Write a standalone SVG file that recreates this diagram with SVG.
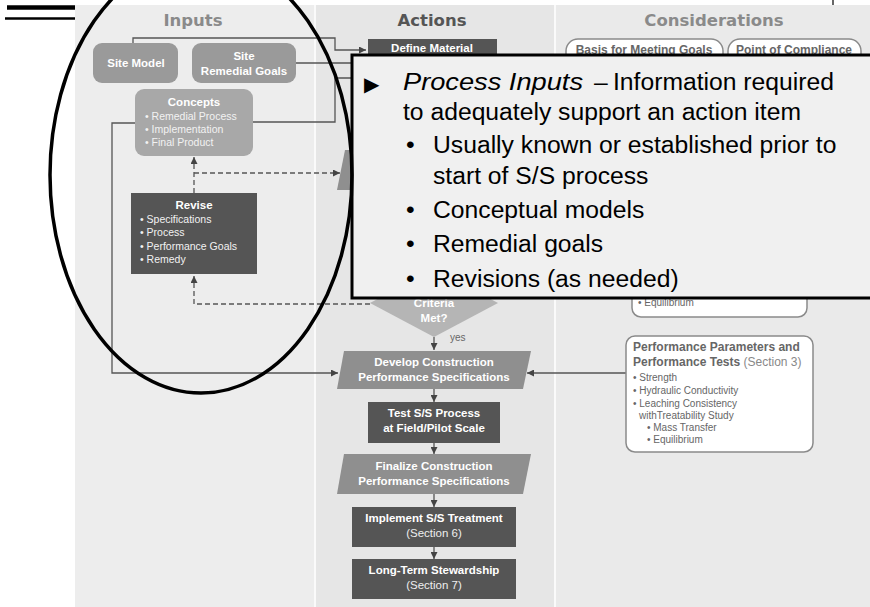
<svg xmlns="http://www.w3.org/2000/svg" width="870" height="607" viewBox="0 0 870 607">
<defs>
<marker id="ah" viewBox="0 0 10 10" refX="10" refY="5" markerWidth="7" markerHeight="7" orient="auto" markerUnits="userSpaceOnUse"><path d="M0,0 L10,5 L0,10 z" fill="#444"/></marker>
</defs>
<style>
.hdr{font-family:"DejaVu Sans",Verdana,sans-serif;font-weight:bold;font-size:16.5px;text-anchor:middle}
.wb{font-family:"Liberation Sans",Arial,sans-serif;font-weight:bold;font-size:11.5px;fill:#fff;text-anchor:middle}
.wn{font-family:"Liberation Sans",Arial,sans-serif;font-size:11.5px;fill:#eee;text-anchor:middle}
.wl{font-family:"Liberation Sans",Arial,sans-serif;font-size:10.5px;fill:#f2f2f2}
.gb{font-family:"Liberation Sans",Arial,sans-serif;font-weight:bold;font-size:12px;fill:#666}
.gn{font-family:"Liberation Sans",Arial,sans-serif;font-size:10px;fill:#666}
.ln{fill:none;stroke:#555;stroke-width:1.3}
.dl{fill:none;stroke:#555;stroke-width:1.3;stroke-dasharray:5 3}
.wbox{fill:#fff;stroke:#8a8a8a;stroke-width:1.5}
.co{font-family:"Liberation Sans",Arial,sans-serif;font-size:24.7px;fill:#000}
</style>

<!-- top-left rules -->
<line x1="7" y1="7.5" x2="75" y2="7.5" stroke="#000" stroke-width="4.5"/>
<line x1="5" y1="18.5" x2="75" y2="18.5" stroke="#000" stroke-width="2.5"/>
<line x1="833" y1="0" x2="833" y2="14" stroke="#000" stroke-width="1.2"/>

<!-- background columns -->
<g id="background">
<rect x="75" y="5" width="795" height="602" fill="#ebebeb"/>
<rect x="75" y="5" width="240" height="602" fill="#ededed"/>
<rect x="316" y="5" width="238" height="602" fill="#e6e6e6"/>
<rect x="556" y="5" width="314" height="602" fill="#eaeaea"/>
<line x1="315" y1="5" x2="315" y2="607" stroke="#fafafa" stroke-width="2"/>
<line x1="555" y1="5" x2="555" y2="607" stroke="#fafafa" stroke-width="2"/>
<text class="hdr" x="193" y="26" fill="#8a8a8a">Inputs</text>
<text class="hdr" x="432" y="26" fill="#555">Actions</text>
<text class="hdr" x="714" y="26" fill="#8a8a8a">Considerations</text>
</g>

<!-- connectors -->
<g id="connectors">
<path class="ln" d="M133,43 V38 H335 V50 H366" marker-end="url(#ah)"/>
<path class="ln" d="M296,63 H366"/>
<path class="ln" d="M253,122 H335 V78 H366"/>
<path class="ln" d="M135,123 H112 V373 H338" marker-end="url(#ah)"/>
<path class="dl" d="M194,193 V157" marker-end="url(#ah)"/>
<path class="dl" d="M194,173 H340" marker-end="url(#ah)"/>
<path class="dl" d="M370,304 H194 V276" marker-end="url(#ah)"/>
<path class="ln" d="M434,337 V350" marker-end="url(#ah)"/>
<path class="ln" d="M434,389 V402" marker-end="url(#ah)"/>
<path class="ln" d="M434,443 V454" marker-end="url(#ah)"/>
<path class="ln" d="M434,494 V507" marker-end="url(#ah)"/>
<path class="ln" d="M434,547 V559" marker-end="url(#ah)"/>
<path class="ln" d="M626,373 H527" marker-end="url(#ah)"/>
</g>

<!-- Inputs nodes -->
<g id="site-model">
<rect x="93" y="43" width="85" height="40" rx="9" fill="#9a9a9a"/>
<text class="wb" x="136" y="67" font-size="12">Site Model</text>
</g>
<g id="site-remedial-goals">
<rect x="192" y="43" width="104" height="40" rx="9" fill="#9a9a9a"/>
<text class="wb" x="244" y="60" font-size="12">Site</text>
<text class="wb" x="244" y="75" font-size="12">Remedial Goals</text>
</g>
<g id="concepts">
<rect x="135" y="89" width="118" height="67" rx="9" fill="#a8a8a8"/>
<text class="wb" x="194" y="106" font-size="12.5">Concepts</text>
<text class="wl" x="145" y="120">• Remedial Process</text>
<text class="wl" x="145" y="133">• Implementation</text>
<text class="wl" x="145" y="146">• Final Product</text>
</g>
<g id="revise">
<rect x="131" y="193" width="126" height="81" fill="#555"/>
<text class="wb" x="194" y="209" font-size="12.5">Revise</text>
<text class="wl" x="140" y="223">• Specifications</text>
<text class="wl" x="140" y="236">• Process</text>
<text class="wl" x="140" y="250">• Performance Goals</text>
<text class="wl" x="140" y="263">• Remedy</text>
</g>

<!-- Actions nodes -->
<g id="define-material">
<rect x="368" y="39" width="129" height="40" fill="#555"/>
<text class="wb" x="432" y="52">Define Material</text>
</g>
<g id="hidden-step">
<polygon points="345,150 530,150 522,190 337,190" fill="#8f8f8f"/>
</g>
<g id="criteria-met">
<polygon points="434,269 498,303 434,337 370,303" fill="#b5b5b5"/>
<text class="wb" x="434" y="307">Criteria</text>
<text class="wb" x="434" y="322">Met?</text>
<text class="gn" x="450" y="341" fill="#777" font-size="10.5">yes</text>
</g>
<g id="develop-specs">
<polygon points="344,351 531,351 523,389 337,389" fill="#8f8f8f"/>
<text class="wb" x="434" y="366">Develop Construction</text>
<text class="wb" x="434" y="381">Performance Specifications</text>
</g>
<g id="test-process">
<rect x="368" y="402" width="132" height="41" fill="#555"/>
<text class="wb" x="434" y="417">Test S/S Process</text>
<text class="wb" x="434" y="432">at Field/Pilot Scale</text>
</g>
<g id="finalize-specs">
<polygon points="344,454 531,454 523,494 337,494" fill="#8f8f8f"/>
<text class="wb" x="434" y="470">Finalize Construction</text>
<text class="wb" x="434" y="485">Performance Specifications</text>
</g>
<g id="implement">
<rect x="352" y="507" width="164" height="40" fill="#555"/>
<text class="wb" x="434" y="522">Implement S/S Treatment</text>
<text class="wn" x="434" y="537">(Section 6)</text>
</g>
<g id="stewardship">
<rect x="352" y="559" width="164" height="40" fill="#555"/>
<text class="wb" x="434" y="574">Long-Term Stewardship</text>
<text class="wn" x="434" y="589">(Section 7)</text>
</g>

<!-- Considerations nodes -->
<g id="basis-goals">
<rect x="566" y="39" width="157" height="36" rx="12" class="wbox"/>
<text class="gb" x="644" y="54" text-anchor="middle" font-size="11">Basis for Meeting Goals</text>
</g>
<g id="point-compliance">
<rect x="728" y="39" width="133" height="36" rx="12" class="wbox"/>
<text class="gb" x="794" y="54" text-anchor="middle" font-size="11">Point of Compliance</text>
</g>
<g id="upper-params">
<rect x="632" y="200" width="175" height="117" rx="9" class="wbox"/>
<text class="gn" x="638" y="306" font-size="9.5">• Equilibrium</text>
</g>
<g id="performance-params">
<rect x="626" y="336" width="187" height="116" rx="9" class="wbox"/>
<text class="gb" x="633" y="351">Performance Parameters and</text>
<text class="gb" x="633" y="366">Performance Tests <tspan font-weight="normal" fill="#888">(Section 3)</tspan></text>
<text class="gn" x="633" y="381">• Strength</text>
<text class="gn" x="633" y="394">• Hydraulic Conductivity</text>
<text class="gn" x="633" y="407">• Leaching Consistency</text>
<text class="gn" x="639" y="419">withTreatability Study</text>
<text class="gn" x="647" y="431">• Mass Transfer</text>
<text class="gn" x="647" y="443">• Equilibrium</text>
</g>

<!-- callout -->
<g id="callout">
<rect x="352" y="55" width="522" height="243" fill="#f0f0f0" stroke="#000" stroke-width="3"/>
<text x="364" y="91" font-family="DejaVu Sans,sans-serif" font-size="20" fill="#000">▶</text>
<text class="co" x="403" y="90" font-style="italic" font-size="25.5" textLength="180" lengthAdjust="spacingAndGlyphs">Process Inputs</text>
<text class="co" x="594" y="90">–</text>
<text class="co" x="613" y="90">Information required</text>
<text class="co" x="403" y="120">to adequately support an action item</text>
<text class="co" x="406" y="153">•</text>
<text class="co" x="433" y="153">Usually known or established prior to</text>
<text class="co" x="433" y="184">start of S/S process</text>
<text class="co" x="406" y="218">•</text>
<text class="co" x="433" y="218">Conceptual models</text>
<text class="co" x="406" y="252">•</text>
<text class="co" x="433" y="252">Remedial goals</text>
<text class="co" x="406" y="287">•</text>
<text class="co" x="433" y="287">Revisions (as needed)</text>
</g>

<!-- highlight ellipse -->
<ellipse cx="201" cy="175" rx="151" ry="218" fill="none" stroke="#000" stroke-width="3.5"/>
</svg>
